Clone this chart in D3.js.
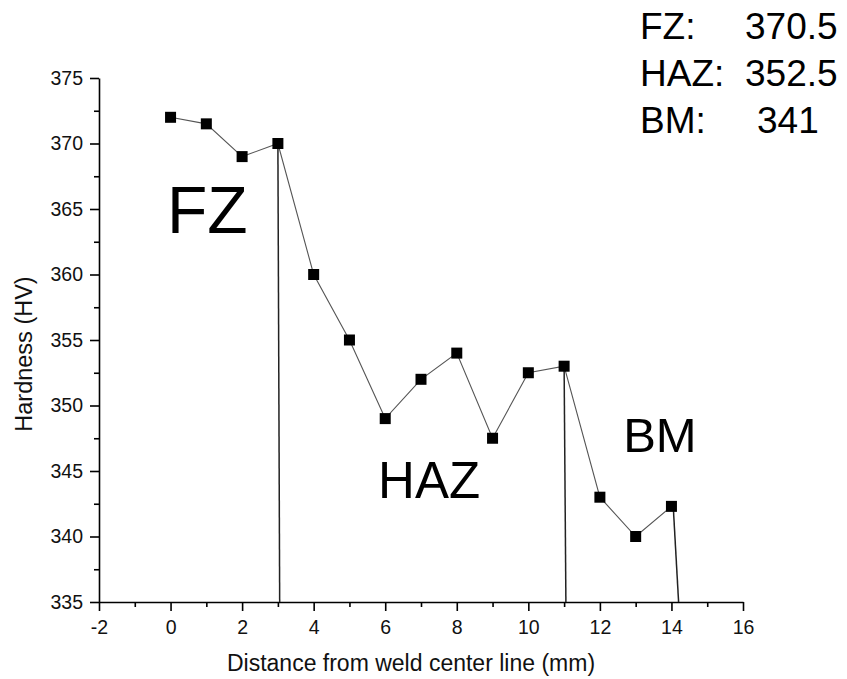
<!DOCTYPE html>
<html>
<head>
<meta charset="utf-8">
<script src="https://cdn.jsdelivr.net/npm/d3@7"></script>
<style>
  body { margin: 0; background: #fff; }
  svg { display: block; font-family: "Liberation Sans", Arial, sans-serif; }
</style>
</head>
<body>
<svg id="root"></svg>
<script>
var width = 847,
    height = 679;

// measured hardness profile
var distance = [0, 1, 2, 3, 4, 5, 6, 7, 8, 9, 10, 11, 12, 13, 14];
var hardness = [372, 371.5, 369, 370, 360, 355, 349, 352, 354, 347.5, 352.5, 353, 343, 340, 342.3];

// zone boundaries (top value, x at top, x at axis)
var dividerTopX = [3, 11, 14.05];
var dividerBottomX = [3.05, 11.05, 14.2];
var dividerTopY = [370, 353, 342.3];

// zone labels inside plot
var zoneNames = ['FZ', 'HAZ', 'BM'];
var zoneLabelX = [-0.1, 5.8, 12.65];
var zoneLabelY = [363.2, 342.95, 346.45];
var zoneLabelSize = [66, 51, 49];

// mean values (top right)
var zoneMeans = ['370.5', '352.5', '341'];

var xTicks = [-2, 0, 2, 4, 6, 8, 10, 12, 14, 16];
var yTicks = [335, 340, 345, 350, 355, 360, 365, 370, 375];

var root = d3.select('#root')
    .attr('width', width)
    .attr('height', height);

var x = d3.scaleLinear().domain([-2, 16]).range([99, 743]),
    y = d3.scaleLinear().domain([335, 375]).range([602, 78]);

// minor ticks
var xMinor = d3.range(-1, 16, 2);
var yMinor = d3.range(337.5, 375, 5);

root.append('g')
    .attr('transform', 'translate(0,' + y(335) + ')')
    .call(d3.axisBottom(x).tickValues(xTicks).tickSize(9).tickSizeOuter(0).tickPadding(9)
        .tickFormat(function(d) { return String(d); }));
root.append('g')
    .attr('transform', 'translate(0,' + y(335) + ')')
    .call(d3.axisBottom(x).tickValues(xMinor).tickSize(5).tickFormat(''))
    .select('.domain').remove();

root.append('g')
    .attr('transform', 'translate(' + x(-2) + ',0)')
    .call(d3.axisLeft(y).tickValues(yTicks).tickSize(9).tickSizeOuter(0).tickPadding(7));
root.append('g')
    .attr('transform', 'translate(' + x(-2) + ',0)')
    .call(d3.axisLeft(y).tickValues(yMinor).tickSize(5).tickFormat(''))
    .select('.domain').remove();

root.selectAll('.domain').attr('stroke', '#000').attr('stroke-width', 1.6);
root.selectAll('.tick line').attr('stroke', '#000').attr('stroke-width', 1.6);
root.selectAll('.tick text')
    .attr('font-family', '"Liberation Sans", Arial, sans-serif')
    .attr('font-size', 19.5)
    .attr('fill', '#111');

// axis titles
root.append('text')
    .attr('x', 411)
    .attr('y', 671)
    .attr('text-anchor', 'middle')
    .attr('font-size', 23)
    .attr('fill', '#111')
    .text('Distance from weld center line (mm)');

root.append('text')
    .attr('transform', 'translate(32,354) rotate(-90)')
    .attr('text-anchor', 'middle')
    .attr('font-size', 23.5)
    .attr('fill', '#111')
    .text('Hardness (HV)');

// zone dividers
root.selectAll('.divider')
    .data(dividerTopX)
    .enter()
        .append('line')
        .attr('class', 'divider')
        .attr('x1', function(d) { return x(d); })
        .attr('y1', function(d, i) { return y(dividerTopY[i]); })
        .attr('x2', function(d, i) { return x(dividerBottomX[i]); })
        .attr('y2', y(335))
        .attr('stroke', '#222')
        .attr('stroke-width', 1.5);

// profile line
var points = distance.map(function(d, i) {
    return [d, hardness[i]];
});

root.append('path')
    .datum(points)
    .attr('fill', 'none')
    .attr('stroke', '#555')
    .attr('stroke-width', 1.1)
    .attr('d', d3.line()
        .x(function(d) { return x(d[0]); })
        .y(function(d) { return y(d[1]); }));

root.selectAll('.marker')
    .data(points)
    .enter()
        .append('rect')
        .attr('class', 'marker')
        .attr('x', function(d) { return x(d[0]) - 5.5; })
        .attr('y', function(d) { return y(d[1]) - 5.5; })
        .attr('width', 11)
        .attr('height', 11)
        .attr('fill', '#000');

// zone names
root.selectAll('.zone')
    .data(zoneNames)
    .enter()
        .append('text')
        .attr('class', 'zone')
        .attr('x', function(d, i) { return x(zoneLabelX[i]); })
        .attr('y', function(d, i) { return y(zoneLabelY[i]); })
        .attr('font-size', function(d, i) { return zoneLabelSize[i]; })
        .attr('fill', '#000')
        .text(function(d) { return d; });

// mean values
var meanX = [745, 745, 757];
zoneNames.forEach(function(n, i) {
    root.append('text')
        .attr('x', 640)
        .attr('y', 39 + i * 47)
        .attr('font-size', 37)
        .attr('fill', '#000')
        .text(n + ':');
    root.append('text')
        .attr('x', meanX[i])
        .attr('y', 39 + i * 47)
        .attr('font-size', 37)
        .attr('fill', '#000')
        .text(zoneMeans[i]);
});
</script>
</body>
</html>
